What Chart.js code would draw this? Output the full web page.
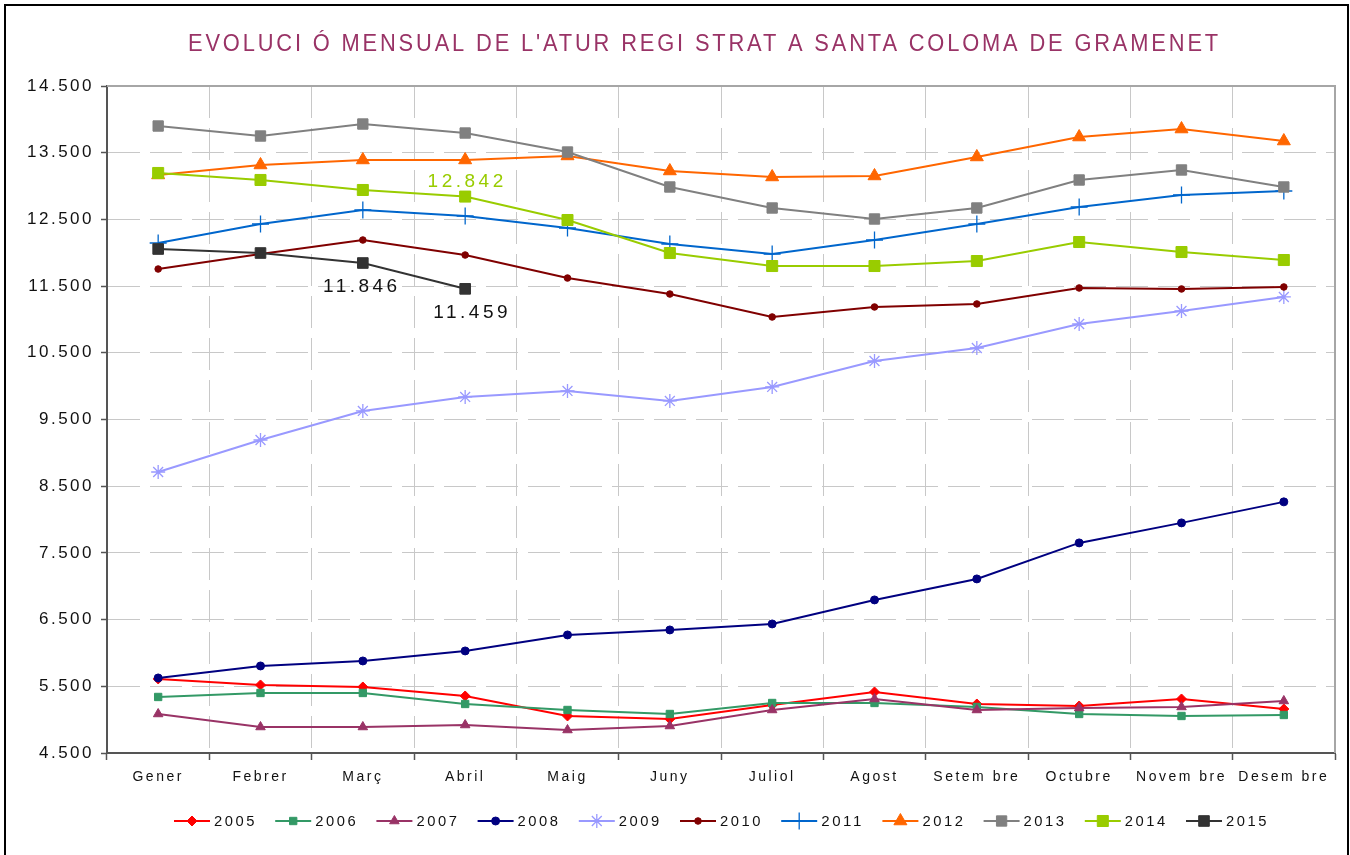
<!DOCTYPE html>
<html><head><meta charset="utf-8">
<script src="https://cdn.jsdelivr.net/npm/chart.js@4.4.1/dist/chart.umd.min.js"></script>
<style>html,body{margin:0;padding:0;background:#fff;}canvas{display:block;}</style>
</head><body>
<canvas id="c" width="1350" height="855"></canvas>
<script>
const titleText = "EVOLUCI Ó MENSUAL DE L'ATUR REGI STRAT A SANTA COLOMA DE GRAMENET";
const months = ['Gener','Febrer','Març','Abril','Maig','Juny','Juliol','Agost','Setem bre','Octubre','Novem bre','Desem bre'];
const years = ['2005','2006','2007','2008','2009','2010','2011','2012','2013','2014','2015'];

const d2005 = [5610, 5520, 5490, 5355, 5055, 5010, 5220, 5415, 5235, 5205, 5310, 5160];
const d2006 = [5340, 5400, 5400, 5235, 5145, 5085, 5250, 5250, 5190, 5085, 5055, 5070];
const d2007 = [5085, 4890, 4890, 4920, 4845, 4905, 5145, 5310, 5145, 5175, 5190, 5280];
const d2008 = [5625, 5805, 5880, 6030, 6270, 6345, 6435, 6795, 7110, 7650, 7950, 8265];
const d2009 = [8713, 9193, 9628, 9838, 9928, 9778, 9988, 10377, 10572, 10932, 11127, 11337];
const d2010 = [11756, 11981, 12191, 11966, 11621, 11381, 11037, 11187, 11232, 11472, 11457, 11487];
const d2011 = [12146, 12431, 12641, 12551, 12371, 12131, 11981, 12191, 12431, 12686, 12866, 12926];
const d2012 = [13166, 13316, 13391, 13391, 13451, 13226, 13136, 13151, 13436, 13735, 13855, 13675];
const d2013 = [13900, 13750, 13930, 13795, 13510, 12986, 12671, 12506, 12671, 13091, 13241, 12986];
const d2014 = [13196, 13091, 12941, 12842, 12491, 11996, 11801, 11801, 11876, 12161, 12011, 11891];
const d2015 = [12056, 11996, 11846, 11459];
const seriesValues = [d2005, d2006, d2007, d2008, d2009, d2010, d2011, d2012, d2013, d2014, d2015];

const yMin = 4500, yMax = 14500, yStep = 1000;

// styles (kept apart from data)
const styles = [
  {c:'#FF0000', p:'rectRot', r:5, bw:1},
  {c:'#339966', p:'rect', r:5.2, bw:1},
  {c:'#993366', p:'triangle', r:5.5, bw:1},
  {c:'#000080', p:'circle', r:4, bw:1},
  {c:'#9999FF', p:'star', r:7, bw:1.3},
  {c:'#800000', p:'circle', r:3.3, bw:1},
  {c:'#0066CC', p:'cross', r:8.5, bw:1.3},
  {c:'#FF6600', p:'triangle', r:7.5, bw:1},
  {c:'#808080', p:'rect', r:7.3, bw:1},
  {c:'#99CC00', p:'rect', r:7.8, bw:1},
  {c:'#333333', p:'rect', r:7.5, bw:1}
];
// value labels: [series index, month index, dx, dy, colour]
const notes = [
  [10, 2, -3, 24, '#111111'],
  [10, 3, 5, 24, '#111111'],
  [9, 3, 0, -15, '#99CC00']
];

function fmt(v){ return String(Math.round(v)).replace(/\B(?=(\d{3})+(?!\d))/g, '.'); }

const datasets = years.map((y, i) => ({
  label: y,
  data: seriesValues[i],
  borderColor: styles[i].c,
  backgroundColor: styles[i].c,
  borderWidth: 2,
  pointStyle: styles[i].p,
  pointRadius: styles[i].r,
  pointBorderWidth: styles[i].bw,
  pointBackgroundColor: styles[i].c,
  pointBorderColor: styles[i].c,
  tension: 0,
  fill: false,
  order: years.length - i
}));

const FONT = "'Liberation Sans', Arial, sans-serif";

const decor = {
  id: 'decor',
  beforeLayout(chart){ chart.ctx.letterSpacing = '2.5px'; },
  beforeDraw(chart){ chart.ctx.letterSpacing = '2.5px'; },
  beforeDatasetsDraw(chart){
    const {ctx, chartArea:a} = chart;
    ctx.save();
    ctx.strokeStyle = '#a6a6a6';
    ctx.lineWidth = 2;
    ctx.beginPath();
    ctx.moveTo(a.left, a.top); ctx.lineTo(a.right, a.top); ctx.lineTo(a.right, a.bottom);
    ctx.stroke();
    ctx.restore();
  },
  afterDraw(chart){
    const {ctx, chartArea:a, scales} = chart;
    ctx.save();
    // outer frame
    ctx.strokeStyle = '#000'; ctx.lineWidth = 2;
    ctx.strokeRect(5, 5, 1343, 900);
    // title
    ctx.fillStyle = '#993366';
    ctx.font = '23px ' + FONT;
    ctx.letterSpacing = '3px';
    ctx.textAlign = 'left'; ctx.textBaseline = 'middle';
    ctx.fillText(titleText, 188, 45, 1033);
    // value labels
    ctx.font = '19px ' + FONT;
    ctx.letterSpacing = '3.5px';
    ctx.textAlign = 'center';
    notes.forEach(n => {
      const v = seriesValues[n[0]][n[1]];
      const x = scales.x.getPixelForValue(n[1]) + n[2];
      const y = scales.y.getPixelForValue(v) + n[3];
      ctx.fillStyle = n[4];
      ctx.fillText(fmt(v), x + 2, y);
    });
    // legend
    const itemW = 101.2, lineW = 36;
    const total = (years.length - 1) * itemW + lineW + 46;
    const sx = (a.left + a.right) / 2 - total / 2;
    const ly = 821;
    ctx.font = '15px ' + FONT;
    ctx.letterSpacing = '2.6px';
    ctx.textAlign = 'left'; ctx.textBaseline = 'middle';
    years.forEach((y, i) => {
      const s = styles[i];
      const x0 = sx + i * itemW;
      ctx.strokeStyle = s.c; ctx.fillStyle = s.c; ctx.lineWidth = 2;
      ctx.beginPath(); ctx.moveTo(x0, ly); ctx.lineTo(x0 + lineW, ly); ctx.stroke();
      ctx.lineWidth = s.bw;
      Chart.helpers.drawPoint(ctx, {pointStyle: s.p, radius: s.r, rotation: 0, borderWidth: s.bw}, x0 + lineW / 2, ly);
      ctx.fillStyle = '#111';
      ctx.fillText(y, x0 + lineW + 4, ly + 1, 43);
    });
    ctx.restore();
  }
};

new Chart(document.getElementById('c'), {
  type: 'line',
  data: { labels: months, datasets },
  options: {
    responsive: false,
    animation: false,
    events: [],
    layout: { padding: { left: 0, right: 15, top: 86, bottom: 0 } },
    plugins: { legend: { display: false }, tooltip: { enabled: false }, title: { display: false } },
    scales: {
      x: {
        offset: true,
        grid: { offset: true, color: '#c8c8c8', lineWidth: 1, tickColor: '#555', tickLength: 7, tickWidth: 1.5, tickBorderDash: [] },
        border: { color: '#555', width: 2, dash: [32, 10] },
        ticks: { color: '#111', padding: 9, font: { size: 14, family: FONT }, maxRotation: 0, autoSkip: false },
        afterFit(s){ s.height = 102; }
      },
      y: {
        min: yMin, max: yMax,
        grid: { color: '#c8c8c8', lineWidth: 1, tickColor: '#555', tickLength: 6, tickWidth: 1.5, tickBorderDash: [] },
        border: { color: '#555', width: 2, dash: [32, 10] },
        ticks: { stepSize: yStep, color: '#111', padding: 7, font: { size: 17, family: FONT }, callback: v => fmt(v) },
        afterFit(s){ s.width = 107; }
      }
    }
  },
  plugins: [decor]
});
</script>
</body></html>
